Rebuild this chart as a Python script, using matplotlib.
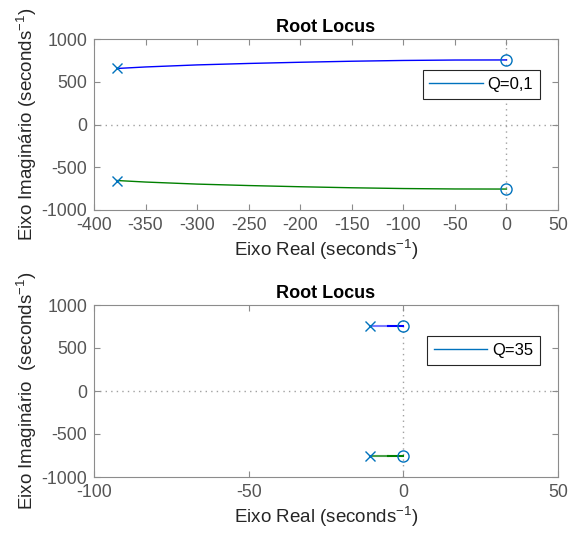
import matplotlib
matplotlib.use("Agg")
from matplotlib import pyplot as plt

plt.rcParams['font.family'] = ['Liberation Sans', 'DejaVu Sans']
plt.rcParams['mathtext.fontset'] = 'custom'
plt.rcParams['mathtext.rm'] = 'Liberation Sans'
plt.rcParams['mathtext.it'] = 'Liberation Sans'
plt.rcParams['axes.unicode_minus'] = False

## DATA
# Q = 0,1 : branch from pole to zero (upper half, lower is mirrored)
re_q01 = [-378, -350, -300, -250, -200, -150, -100, -50, 0]
im_q01 = [655, 673, 697, 714, 728, 740, 749, 754, 755]
poles_q01 = [(-378, 655), (-378, -655)]
zeros_q01 = [(0, 755), (0, -755)]

# Q = 35
re_q35 = [-10.8, -5, 0]
im_q35 = [755, 755, 755]
poles_q35 = [(-10.8, 755), (-10.8, -755)]
zeros_q35 = [(0, 755), (0, -755)]

labels = ['Q=0,1', 'Q=35']
xlims = [(-400, 50), (-100, 50)]
xticks = [list(range(-400, 51, 50)), [-100, -50, 0, 50]]
yticks = [-1000, -500, 0, 500, 1000]
ylabels = ['Eixo Imaginário (seconds$^{\\mathrm{-1}}$)', 'Eixo Imaginário  (seconds$^{\\mathrm{-1}}$)']

mblue = '#0072BD'
tick_col = '#555555'
edge_col = '#8c8c8c'

fig = plt.figure(figsize=(5.68, 5.33), dpi=100)
ax1 = fig.add_axes([94/568, 1 - 210/533, 464/568, 171/533])
ax2 = fig.add_axes([94/568, 1 - 477/533, 464/568, 172/533])
axs = [ax1, ax2]

## branches
ax1.plot(re_q01, im_q01, color='#0000ff', lw=1, zorder=3)
ax1.plot(re_q01, [-v for v in im_q01], color='#008000', lw=1, zorder=3)

ax2.plot(re_q35[:2], im_q35[:2], color='#7a7aff', lw=1.5, zorder=3)
ax2.plot(re_q35[1:], im_q35[1:], color='#0000ff', lw=1.5, zorder=3)
ax2.plot(re_q35[:2], [-v for v in im_q35[:2]], color='#4aa04a', lw=1.5, zorder=3)
ax2.plot(re_q35[1:], [-v for v in im_q35[1:]], color='#008000', lw=1.5, zorder=3)

for ax, poles, zeros, lab in zip(axs, [poles_q01, poles_q35], [zeros_q01, zeros_q35], labels):
    ax.plot([p[0] for p in poles], [p[1] for p in poles], 'x', color=mblue, ms=7, mew=1, zorder=4)
    ax.plot([z[0] for z in zeros], [z[1] for z in zeros], 'o', color=mblue, mfc='none', ms=8, mew=1, zorder=4)
    # legend handle
    ax.plot([], [], color=mblue, lw=1, label=lab)

for i, ax in enumerate(axs):
    ax.set_xlim(*xlims[i])
    ax.set_ylim(-1000, 1000)
    ax.set_xticks(xticks[i])
    ax.set_yticks(yticks)
    ax.axhline(0, color='#a0a0a0', lw=1, ls=(0, (1, 3)), zorder=1)
    ax.axvline(0, color='#a0a0a0', lw=1, ls=(0, (1, 3)), zorder=1)
    ax.tick_params(direction='in', top=True, right=True, length=4, width=0.8,
                   colors=edge_col, labelcolor=tick_col, labelsize=12.8, pad=5)
    for s in ax.spines.values():
        s.set_color(edge_col)
        s.set_linewidth(0.8)
    ax.set_title('Root Locus', fontsize=13, fontweight='bold', pad=5)
    ax.set_xlabel('Eixo Real (seconds$^{\\mathrm{-1}}$)', fontsize=13.5, color='#262626', labelpad=3)
    ax.set_ylabel(ylabels[i], fontsize=13.5, color='#262626', labelpad=2)
    leg = ax.legend(loc='upper right', bbox_to_anchor=(0.961, 0.817), fontsize=12,
                    fancybox=False, framealpha=1, handlelength=3.2, borderpad=0.4,
                    borderaxespad=0, handletextpad=0.3)
    leg.get_frame().set_edgecolor('#262626')
    leg.get_frame().set_linewidth(0.8)

fig.savefig('out.png', dpi=100)
